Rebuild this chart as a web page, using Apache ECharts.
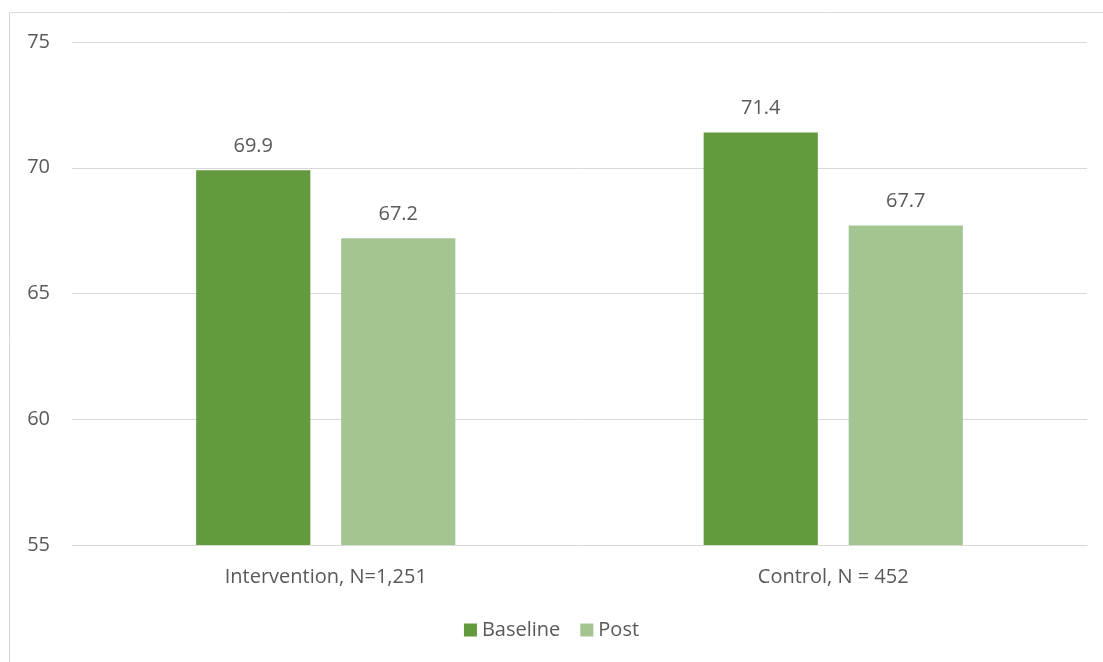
<!DOCTYPE html>
<html>
<head>
<meta charset="utf-8">
<script src="https://cdn.jsdelivr.net/npm/echarts@6/dist/echarts.min.js"></script>
<style>
  html, body { margin: 0; padding: 0; background: #fff; }
  #chart { width: 1103px; height: 662px; }
</style>
</head>
<body>
<div id="chart"></div>
<script>
// data
const categories = ['Intervention, N=1,251', 'Control, N = 452']
const baseline = [69.9, 71.4]
const post = [67.2, 67.7]
const yTicks = { min: 55, max: 75, interval: 5 }

const font = '"Open Sans", "Noto Sans", sans-serif'
const textColor = '#595959'

const chart = echarts.init(document.getElementById('chart'))

const labelStyle = {
  show: true,
  position: 'top',
  distance: 14,
  color: textColor,
  fontSize: 20,
  fontFamily: font,
  formatter: (p) => p.value.toFixed(1)
}

chart.setOption({
  animation: false,
  backgroundColor: '#fff',
  graphic: [{
    type: 'rect',
    shape: { x: 9.5, y: 12.5, width: 1200, height: 800 },
    style: { fill: 'none', stroke: '#d9d9d9', lineWidth: 1 }
  }],
  grid: { left: 72, right: 16, top: 42, bottom: 117 },
  legend: {
    bottom: 17,
    left: 'center',
    itemWidth: 13,
    itemHeight: 13,
    itemGap: 20,
    icon: 'rect',
    textStyle: { color: textColor, fontSize: 20, fontFamily: font },
    data: ['Baseline', 'Post']
  },
  xAxis: {
    type: 'category',
    data: categories,
    axisLine: { lineStyle: { color: '#d9d9d9', width: 1 } },
    axisTick: { show: false },
    axisLabel: { color: textColor, fontSize: 20, fontFamily: font, margin: 22 }
  },
  yAxis: {
    type: 'value',
    min: yTicks.min,
    max: yTicks.max,
    interval: yTicks.interval,
    axisLine: { show: false },
    axisTick: { show: false },
    axisLabel: { color: textColor, fontSize: 20, fontFamily: font, margin: 22, align: 'right' },
    splitLine: { lineStyle: { color: '#d9d9d9', width: 1 } }
  },
  series: [
    {
      name: 'Baseline',
      type: 'bar',
      data: baseline,
      barWidth: '22.5%',
      barGap: '27%',
      itemStyle: { color: '#629a3d' },
      label: labelStyle
    },
    {
      name: 'Post',
      type: 'bar',
      data: post,
      barWidth: '22.5%',
      itemStyle: { color: '#a3c591' },
      label: labelStyle
    }
  ]
})
</script>
</body>
</html>
